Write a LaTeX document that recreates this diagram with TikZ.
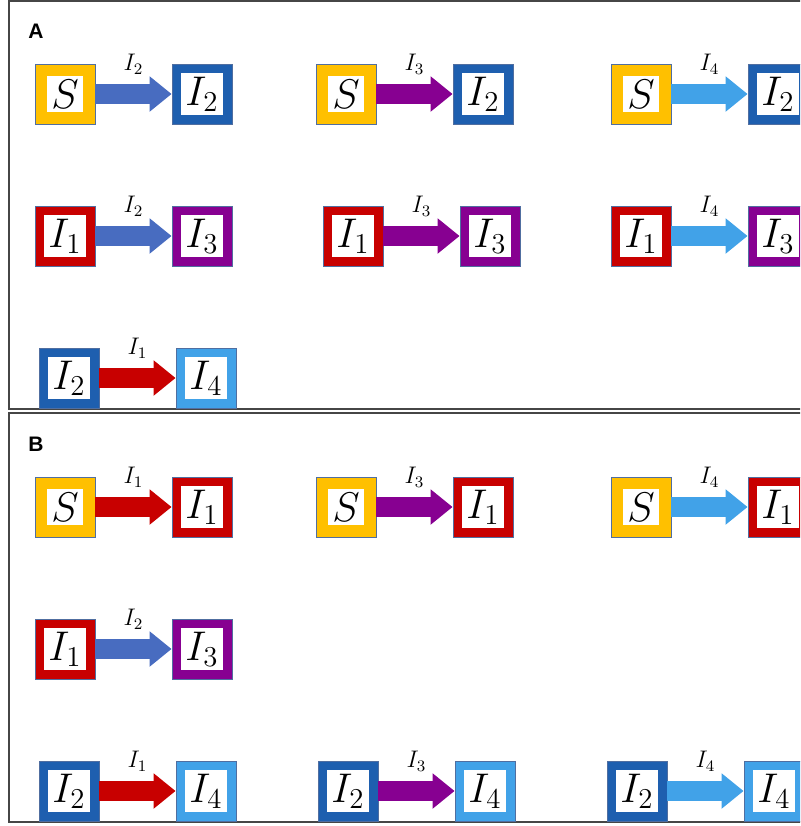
\documentclass[tikz,border=0pt]{standalone}
\usepackage{fontspec}
\usepackage{xcolor}
\usepackage{tikz}
\usetikzlibrary{arrows.meta}
\newfontfamily\tagfont{Liberation Sans}
\definecolor{Sorange}{RGB}{255,192,0}
\definecolor{Ired}{RGB}{200,0,0}
\definecolor{Iblue}{RGB}{30,95,175}
\definecolor{Ipurple}{RGB}{135,0,145}
\definecolor{Ilight}{RGB}{65,162,232}
\definecolor{Fblue}{RGB}{72,108,192}
\definecolor{boxline}{RGB}{80,110,160}
\definecolor{panelline}{RGB}{70,70,70}
\newcommand{\wbox}[1]{{\setlength\fboxsep{2pt}\colorbox{white}{$#1$}}}
\tikzset{
  cbox/.style={draw=boxline, line width=0.4pt, fill=#1, minimum size=30pt,
    inner sep=0pt, font=\huge},
  flow/.style={#1, line width=10pt, -{Triangle[length=11pt, width=17pt]}},
  lbl/.style={midway, above=5pt, inner sep=0pt, text=black, font=\large},
  panel/.style={draw=panelline, line width=1pt},
  tag/.style={inner sep=0pt, font=\tagfont\bfseries\fontsize{10.5}{12}\selectfont}
}

\begin{document}
\begin{tikzpicture}[x=0.5pt, y=-0.5pt]
  \useasboundingbox (0,0) rectangle (800,826);
  \clip (0,0) rectangle (800,826);
  \draw[panel] (9,1) rectangle (830,409);
  \draw[panel] (9,413) rectangle (830,822);
  \node[tag] (tagA) at (36,31) {A};
  \node[tag] (tagB) at (36,444) {B};
  \foreach \n/\x/\y/\ca/\ta/\cb/\tb/\cf/\lab in {
      a1/65/94/Sorange/S/Iblue/I_2/Fblue/I_2,
      a2/346/94/Sorange/S/Iblue/I_2/Ipurple/I_3,
      a3/641/94/Sorange/S/Iblue/I_2/Ilight/I_4,
      a4/65/236/Ired/I_1/Ipurple/I_3/Fblue/I_2,
      a5/353/236/Ired/I_1/Ipurple/I_3/Ipurple/I_3,
      a6/641/236/Ired/I_1/Ipurple/I_3/Ilight/I_4,
      a7/69/378/Iblue/I_2/Ilight/I_4/Ired/I_1,
      b1/65/507/Sorange/S/Ired/I_1/Ired/I_1,
      b2/346/507/Sorange/S/Ired/I_1/Ipurple/I_3,
      b3/641/507/Sorange/S/Ired/I_1/Ilight/I_4,
      b4/65/649/Ired/I_1/Ipurple/I_3/Fblue/I_2,
      b5/69/791/Iblue/I_2/Ilight/I_4/Ired/I_1,
      b6/348/791/Iblue/I_2/Ilight/I_4/Ipurple/I_3,
      b7/637/791/Iblue/I_2/Ilight/I_4/Ilight/I_4}
  {
    \node[cbox=\ca] (l\n) at (\x,\y) {\wbox{\ta}};
    \node[cbox=\cb] (r\n) at (\x+137,\y) {\wbox{\tb}};
    \draw[flow=\cf] (l\n) -- node[lbl] (t\n) {$\lab$} (r\n);
  }
\end{tikzpicture}
\end{document}
